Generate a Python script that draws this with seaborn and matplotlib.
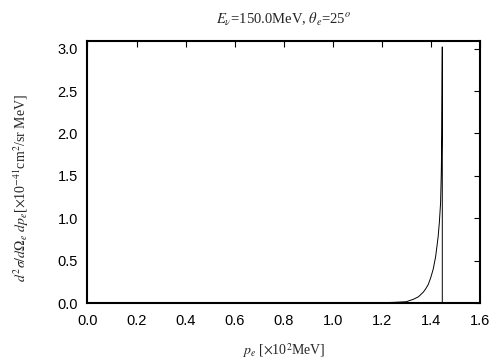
import matplotlib
matplotlib.use("Agg")
import matplotlib.pyplot as plt
import seaborn as sns
import pandas as pd

# data
p_e = [1.10, 1.15, 1.20, 1.25, 1.30, 1.33, 1.35, 1.37, 1.38, 1.39, 1.40, 1.41,
       1.42, 1.43, 1.435, 1.44, 1.443, 1.445, 1.446, 1.447, 1.447]
dsigma = [0.0, 0.001, 0.004, 0.008, 0.015, 0.045, 0.074, 0.13, 0.17, 0.22, 0.30,
          0.40, 0.55, 0.78, 0.95, 1.18, 1.55, 2.0, 2.5, 3.02, 0.0]
x_ticks = [0.0, 0.2, 0.4, 0.6, 0.8, 1.0, 1.2, 1.4, 1.6]
y_ticks = [0.0, 0.5, 1.0, 1.5, 2.0, 2.5, 3.0]

sns.set_style("white")
plt.rcParams['font.family'] = ['Liberation Sans', 'DejaVu Sans']
plt.rcParams['mathtext.fontset'] = 'stix'

df = pd.DataFrame({"p": p_e, "s": dsigma})

fig = plt.figure(figsize=(5.04, 3.6), dpi=100)
ax = fig.add_axes([0.1736, 0.1583, 0.7784, 0.7278])
sns.lineplot(data=df, x="p", y="s", sort=False, estimator=None, ax=ax,
             color="black", linewidth=0.7)

ax.set_xlim(0, 1.6)
ax.set_ylim(0, 3.09)
ax.set_xticks(x_ticks)
ax.set_yticks(y_ticks)
ax.set_xticklabels([f"{v:.1f}" for v in x_ticks])
ax.set_yticklabels([f"{v:.1f}" for v in y_ticks])
ax.tick_params(direction="in", top=True, right=True, length=4, width=0.8,
               labelsize=10.5, colors="black")
ax.tick_params(axis="x", pad=8)
ax.tick_params(axis="y", pad=7)
for sp in ax.spines.values():
    sp.set_visible(True)
    sp.set_linewidth(1.5)
    sp.set_color("black")

serif = ['Liberation Serif', 'DejaVu Serif']
ax.set_title(r"$E_\nu$=150.0MeV, $\theta_e$=25$^o$", family=serif, fontsize=10.5, pad=12)
ax.set_xlabel(r"$p_e$ [$\times$10$^2$MeV]", family=serif, fontsize=10)
ax.xaxis.set_label_coords(0.5, -0.145)
ax.set_ylabel(r"$d^2\sigma/d\Omega_e\ dp_e$[$\times$10$^{-41}$cm$^2$/sr MeV]",
              family=serif, fontsize=10)
ax.yaxis.set_label_coords(-0.145, 0.44)

fig.savefig("out.png", dpi=100)
